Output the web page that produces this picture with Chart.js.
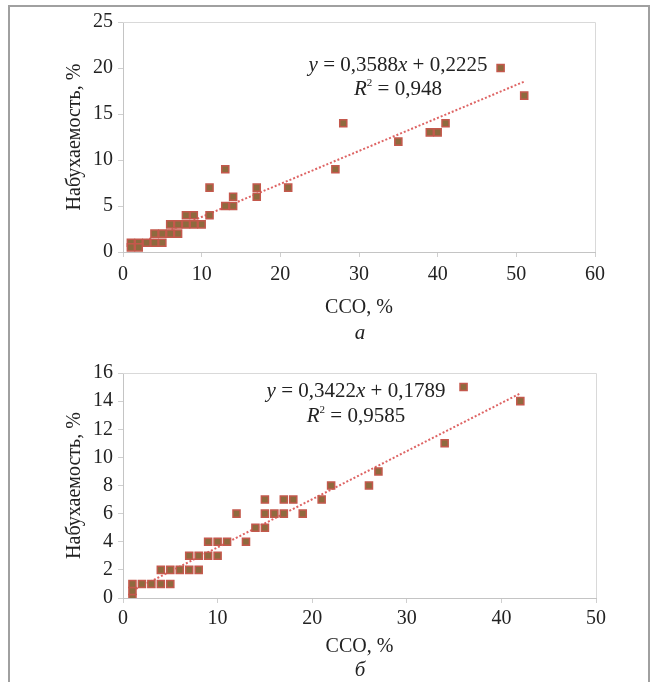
<!DOCTYPE html>
<html>
<head>
<meta charset="utf-8">
<script src="https://cdn.jsdelivr.net/npm/chart.js@4"></script>
<style>
  body { margin: 0; background: #fff; width: 653px; height: 682px; overflow: hidden; position: relative; font-family: 'Liberation Serif', serif; color: #222; }
  .frame { position: absolute; left: 8px; top: 5px; width: 638px; height: 700px; border: 2px solid #a0a0a0; border-bottom: none; }
  canvas { position: absolute; left: 0; }
  .lbl { position: absolute; text-align: center; font-size: 21px; line-height: 24px; white-space: nowrap; }
  .lbl sup { font-size: 11px; vertical-align: 9px; line-height: 0; }
</style>
</head>
<body>
<div class="frame"></div>
<canvas id="chartA" width="653" height="345" style="top:0"></canvas>
<canvas id="chartB" width="653" height="337" style="top:345px"></canvas>

<div class="lbl" style="left:248px;top:52px;width:300px"><i>y</i> = 0,3588<i>x</i> + 0,2225</div>
<div class="lbl" style="left:248px;top:76px;width:300px"><i>R</i><sup>2</sup> = 0,948</div>
<div class="lbl" style="left:360px;top:320px;width:0;"><span style="position:relative;left:-50px;display:inline-block;width:100px;font-style:italic">а</span></div>

<div class="lbl" style="left:206px;top:378px;width:300px"><i>y</i> = 0,3422<i>x</i> + 0,1789</div>
<div class="lbl" style="left:206px;top:403px;width:300px"><i>R</i><sup>2</sup> = 0,9585</div>
<div class="lbl" style="left:360px;top:657px;width:0;"><span style="position:relative;left:-50px;display:inline-block;width:100px;font-style:italic">б</span></div>

<script>
// chart a
const ccoA = [1, 1, 2, 2, 3, 4, 4, 5, 5, 6, 6, 7, 7, 8, 8, 9, 9, 10, 11, 11, 13, 13, 14, 14, 17, 17, 21, 27, 28, 35, 39, 40, 41, 48, 51];
const swellA = [1, 0.5, 1, 0.5, 1, 1, 2, 1, 2, 2, 3, 2, 3, 3, 4, 3, 4, 3, 4, 7, 9, 5, 5, 6, 7, 6, 7, 9, 14, 12, 13, 13, 14, 20, 17];
const trendAX = [1, 51];
const trendAY = [0.58, 18.52];

// chart b
const ccoB = [1, 1, 1, 2, 3, 4, 4, 5, 5, 6, 7, 7, 8, 8, 9, 9, 10, 10, 11, 12, 13, 14, 15, 15, 15, 16, 17, 17, 18, 19, 21, 22, 26, 27, 34, 36, 42];
const swellB = [0, 0.5, 1, 1, 1, 1, 2, 1, 2, 2, 2, 3, 2, 3, 3, 4, 3, 4, 4, 6, 4, 5, 5, 6, 7, 6, 6, 7, 7, 6, 7, 8, 8, 9, 11, 15, 14];
const trendBX = [1, 42];
const trendBY = [0.52, 14.55];

const xTitle = 'ССО, %';
const yTitle = 'Набухаемость, %';

Chart.defaults.font.family = "'Liberation Serif', serif";
Chart.defaults.font.size = 20;
Chart.defaults.color = '#222';

const plotFrame = {
  id: 'plotFrame',
  afterDraw(chart) {
    const { ctx, chartArea: a } = chart;
    ctx.save();
    ctx.strokeStyle = '#d9d9d9';
    ctx.lineWidth = 1;
    ctx.beginPath();
    ctx.moveTo(a.left, a.top + 0.5);
    ctx.lineTo(a.right + 0.5, a.top + 0.5);
    ctx.lineTo(a.right + 0.5, a.bottom);
    ctx.stroke();
    ctx.restore();
  }
};

function pairs(xs, ys) {
  return xs.map((x, i) => ({ x: x, y: ys[i] }));
}

function makeChart(id, xs, ys, tx, ty, opt) {
  return new Chart(document.getElementById(id), {
    type: 'scatter',
    data: {
      datasets: [
        {
          data: pairs(xs, ys),
          pointStyle: 'rect',
          pointRadius: 5,
          backgroundColor: '#8e6a3e',
          borderColor: '#c4584c',
          borderWidth: 1.5
        },
        {
          type: 'line',
          data: pairs(tx, ty),
          borderColor: '#de6464',
          borderWidth: 2,
          borderDash: [2, 2],
          pointRadius: 0,
          fill: false
        }
      ]
    },
    options: {
      responsive: false,
      animation: false,
      layout: { padding: { top: opt.top, right: opt.right, left: 0, bottom: 0 } },
      plugins: { legend: { display: false }, tooltip: { enabled: false } },
      scales: {
        x: {
          type: 'linear',
          min: 0, max: opt.xMax,
          ticks: { stepSize: 10, padding: opt.xPad },
          grid: { drawOnChartArea: false, tickLength: 5, color: '#cfcfcf' },
          border: { color: '#c4c4c4' },
          title: { display: true, text: xTitle, padding: { top: 0, bottom: opt.xTitlePad } },
          afterFit(s) { s.height = opt.xHeight; }
        },
        y: {
          min: 0, max: opt.yMax,
          ticks: { stepSize: opt.yStep, padding: 5 },
          grid: { drawOnChartArea: false, tickLength: 5, color: '#cfcfcf' },
          border: { color: '#c4c4c4' },
          title: { display: true, text: yTitle, padding: { top: 63, bottom: 0 } },
          afterFit(s) { s.width = 123; }
        }
      }
    },
    plugins: [plotFrame]
  });
}

makeChart('chartA', ccoA, swellA, trendAX, trendAY,
  { top: 22, right: 58, xMax: 60, yMax: 25, yStep: 5, xHeight: 93, xPad: 6, xTitlePad: 25 });
makeChart('chartB', ccoB, swellB, trendBX, trendBY,
  { top: 28, right: 57, xMax: 50, yMax: 16, yStep: 2, xHeight: 84, xPad: 4, xTitlePad: 23 });
</script>
</body>
</html>
